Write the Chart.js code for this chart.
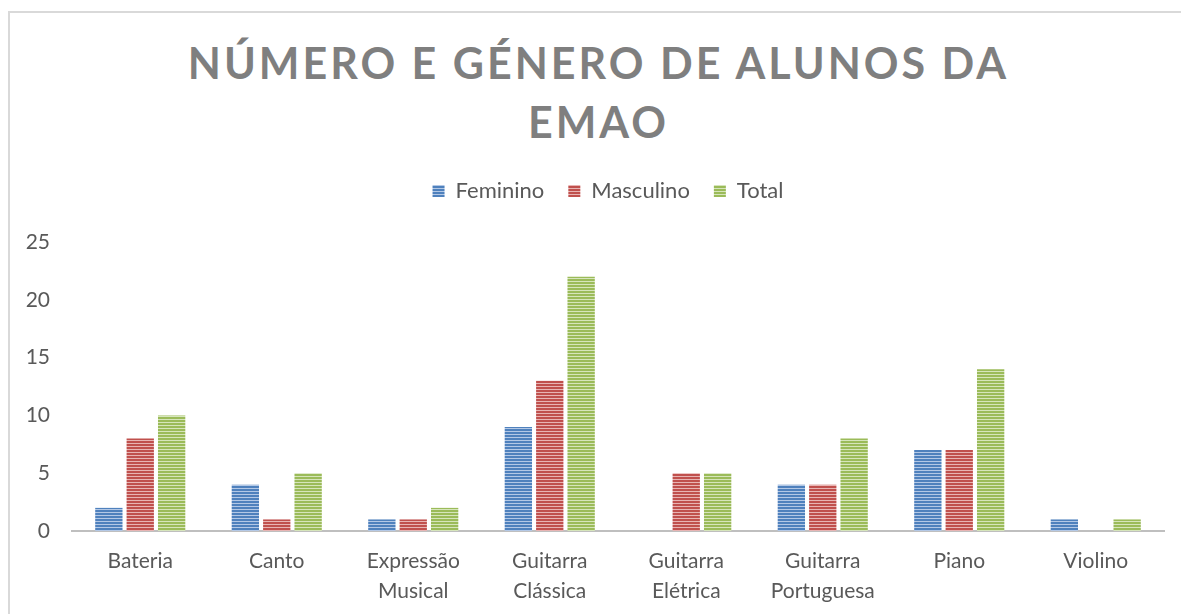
<!DOCTYPE html>
<html>
<head>
<meta charset="utf-8">
<script src="https://cdn.jsdelivr.net/npm/chart.js@4"></script>
<style>
  body { margin: 0; background: #fff; width: 1181px; height: 614px; overflow: hidden; position: relative; }
  .frame { position: absolute; left: 8px; top: 11px; width: 1200px; height: 700px; border: 2px solid #d9d9d9; box-sizing: border-box; }
  .title { position: absolute; left: 8px; top: 33px; width: 1181px; text-align: center; font-family: Lato, sans-serif; font-weight: bold; font-size: 43px; letter-spacing: 3px; line-height: 59px; color: #7f7f7f; }
  #chart { position: absolute; left: 0; top: 0; }
</style>
</head>
<body>
<div class="frame"></div>
<div class="title">NÚMERO E GÉNERO DE ALUNOS DA<br>EMAO</div>
<canvas id="chart" width="1181" height="614"></canvas>
<script>
// ============ DATA ============
const categories = [
    'Bateria', 'Canto', ['Expressão', 'Musical'], ['Guitarra', 'Clássica'],
    ['Guitarra', 'Elétrica'], ['Guitarra', 'Portuguesa'], 'Piano', 'Violino'
];
const feminino = [2, 4, 1, 9, 0, 4, 7, 1];
const masculino = [8, 1, 1, 13, 5, 4, 7, 0];
const total = [10, 5, 2, 22, 5, 8, 14, 1];
const yTicks = [0, 5, 10, 15, 20, 25];

// ============ STRIPE PATTERNS ============
function stripePattern(dark, light) {
    const c = document.createElement('canvas');
    c.width = 4;
    c.height = 3;
    const g = c.getContext('2d');
    g.fillStyle = dark;
    g.fillRect(0, 0, 4, 2);
    g.fillStyle = light;
    g.fillRect(0, 2, 4, 1);
    return g.createPattern(c, 'repeat');
}

const ctx = document.getElementById('chart').getContext('2d');
const bluePat = stripePattern('#4f81bd', '#b3c8e6');
const redPat = stripePattern('#c0504d', '#e8b4b3');
const greenPat = stripePattern('#9bbb59', '#d6e5bb');

const font = 'Lato, sans-serif';

// extra room under the legend, and nudge it right like the original
const legendTweak = {
    id: 'legendTweak',
    beforeInit(chart) {
        const fit = chart.legend.fit;
        chart.legend.fit = function () {
            fit.bind(chart.legend)();
            this.height += 30;
        };
    },
    afterLayout(chart) {
        chart.legend.left += 16;
        chart.legend.right += 16;
    }
};

new Chart(ctx, {
    type: 'bar',
    data: {
        labels: categories,
        datasets: [
            { label: 'Feminino', data: feminino, backgroundColor: bluePat },
            { label: 'Masculino', data: masculino, backgroundColor: redPat },
            { label: 'Total', data: total, backgroundColor: greenPat }
        ]
    },
    plugins: [legendTweak],
    options: {
        responsive: false,
        animation: false,
        categoryPercentage: 0.69,
        barPercentage: 0.87,
        layout: { padding: { top: 156, left: 20, right: 17, bottom: 0 } },
        plugins: {
            title: { display: false },
            tooltip: { enabled: false },
            legend: {
                position: 'top',
                labels: {
                    font: { family: font, size: 22 },
                    color: '#595959',
                    boxWidth: 12,
                    boxHeight: 12,
                    padding: 24
                }
            }
        },
        scales: {
            x: {
                grid: { display: false, drawTicks: false },
                border: { color: '#bfbfbf', width: 2 },
                afterFit: axis => { axis.height = 83; },
                ticks: {
                    font: { family: font, size: 21, lineHeight: 1.43 },
                    color: '#595959',
                    padding: 15,
                    maxRotation: 0,
                    autoSkip: false
                }
            },
            y: {
                min: 0,
                max: 25,
                afterBuildTicks: axis => { axis.ticks = yTicks.map(v => ({ value: v })); },
                afterFit: axis => { axis.width = 52; },
                grid: { display: false, drawTicks: false },
                border: { display: false },
                ticks: {
                    font: { family: font, size: 21 },
                    color: '#595959',
                    padding: 22
                }
            }
        }
    }
});
</script>
</body>
</html>
